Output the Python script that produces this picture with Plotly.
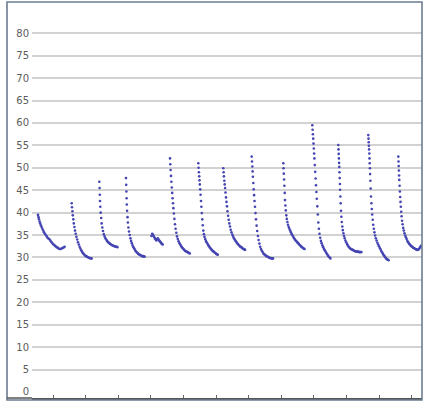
import plotly.graph_objects as go

# ---- data (x in arbitrary time units, y = temperature-like values) ----
t01 = [38, 38.5, 39, 39.6, 40.2, 40.9, 41.6, 42.4, 43.2, 44, 44.9, 45.8, 46.7, 47.6, 48.6, 49.6, 50.6, 51.6, 52.6, 53.6, 54.6, 55.6, 56.6, 57.6, 58.6, 59.6, 60.6, 61.6, 62.6, 63.6, 64.6]
v01 = [39.5, 39.0, 38.5, 38.0, 37.6, 37.2, 36.8, 36.4, 36.0, 35.6, 35.3, 35.0, 34.7, 34.4, 34.2, 34.0, 33.7, 33.4, 33.1, 32.9, 32.7, 32.5, 32.3, 32.2, 32.0, 31.9, 31.9, 32.0, 32.1, 32.2, 32.4]

t02 = [71.7, 72.0, 72.4, 72.8, 73.3, 73.8, 74.4, 75.0, 75.7, 76.4, 77.2, 78.0, 78.8, 79.6, 80.4, 81.2, 82.0, 82.8, 83.6, 84.4, 85.2, 86.0, 86.8, 87.6, 88.4, 89.2, 90.0, 90.8, 91.6]
v02 = [42.1, 41.2, 40.3, 39.4, 38.5, 37.6, 36.8, 36.0, 35.3, 34.6, 34.0, 33.4, 32.9, 32.4, 32.0, 31.6, 31.3, 31.0, 30.8, 30.6, 30.4, 30.3, 30.2, 30.1, 30.0, 29.9, 29.9, 29.8, 29.8]

t03 = [99.3, 99.6, 99.8, 100.0, 100.3, 100.7, 101.2, 101.7, 102.3, 103.0, 103.8, 104.6, 105.4, 106.2, 107.0, 107.8, 108.6, 109.4, 110.2, 111.0, 111.8, 112.6, 113.4, 114.2, 115.0, 115.8, 116.6, 117.4]
v03 = [46.9, 45.5, 44.0, 42.6, 41.3, 40.0, 38.8, 37.6, 36.7, 35.9, 35.2, 34.7, 34.3, 34.0, 33.7, 33.5, 33.3, 33.2, 33.0, 32.9, 32.8, 32.7, 32.6, 32.5, 32.5, 32.4, 32.4, 32.3]

t04 = [126, 126.2, 126.4, 126.6, 126.8, 127.1, 127.5, 127.9, 128.4, 129.0, 129.7, 130.4, 131.1, 131.8, 132.6, 133.4, 134.2, 135.0, 135.8, 136.6, 137.4, 138.2, 139.0, 139.8, 140.6, 141.4, 142.2, 143.0, 143.8, 144.6]
v04 = [47.7, 46.2, 44.7, 43.2, 41.8, 40.4, 39.0, 37.8, 36.7, 35.8, 35.0, 34.3, 33.7, 33.2, 32.7, 32.3, 32.0, 31.7, 31.4, 31.2, 31.0, 30.8, 30.7, 30.6, 30.5, 30.4, 30.3, 30.3, 30.2, 30.2]

t05 = [151.5, 152.2, 152.9, 153.6, 154.3, 155.0, 155.7, 156.4, 157.1, 157.8, 158.5, 159.2, 159.9, 160.6, 161.3, 162.0, 162.7]
v05 = [34.8, 35.3, 35.1, 34.8, 34.5, 34.2, 34.0, 33.8, 34.1, 34.3, 34.0, 33.8, 33.6, 33.4, 33.2, 33.0, 32.9]

t06 = [170.0, 170.3, 170.6, 171.0, 171.4, 171.8, 172.2, 172.6, 173.0, 173.4, 173.9, 174.4, 175.0, 175.6, 176.3, 177.0, 177.8, 178.6, 179.4, 180.2, 181.0, 181.8, 182.6, 183.4, 184.2, 185.0, 185.8, 186.6, 187.4, 188.2, 189.0, 189.8]
v06 = [52.1, 50.8, 49.5, 48.2, 46.9, 45.6, 44.4, 43.2, 42.1, 41.0, 39.8, 38.6, 37.4, 36.4, 35.5, 34.7, 34.1, 33.6, 33.2, 32.9, 32.6, 32.3, 32.1, 31.9, 31.7, 31.5, 31.4, 31.3, 31.2, 31.1, 31.0, 30.9]

t07 = [198.3, 198.6, 198.9, 199.2, 199.5, 199.8, 200.2, 200.6, 201.0, 201.4, 201.8, 202.3, 202.8, 203.3, 203.9, 204.5, 205.2, 205.9, 206.6, 207.4, 208.2, 209.0, 209.8, 210.6, 211.4, 212.2, 213.0, 213.8, 214.6, 215.4, 216.2, 217.0, 217.8]
v07 = [51.0, 50.0, 49.0, 48.1, 47.2, 46.3, 45.2, 44.0, 42.6, 41.3, 39.9, 38.5, 37.2, 36.0, 35.2, 34.6, 34.1, 33.7, 33.4, 33.1, 32.8, 32.5, 32.2, 32.0, 31.8, 31.6, 31.4, 31.3, 31.1, 31.0, 30.8, 30.7, 30.6]

t08 = [223.3, 223.6, 223.9, 224.3, 224.7, 225.1, 225.5, 226.0, 226.5, 227.0, 227.5, 228.1, 228.7, 229.3, 230.0, 230.7, 231.5, 232.3, 233.1, 233.9, 234.7, 235.5, 236.3, 237.1, 237.9, 238.7, 239.5, 240.3, 241.1, 241.9, 242.7, 243.5, 244.3, 245.1]
v08 = [49.9, 49.0, 48.1, 47.1, 46.3, 45.5, 44.5, 43.4, 42.4, 41.4, 40.3, 39.3, 38.4, 37.6, 36.9, 36.2, 35.6, 35.1, 34.7, 34.3, 34.0, 33.7, 33.5, 33.2, 33.0, 32.8, 32.6, 32.4, 32.3, 32.2, 32.0, 31.9, 31.8, 31.7]

t09 = [251.7, 252.0, 252.3, 252.6, 252.9, 253.3, 253.7, 254.1, 254.5, 255.0, 255.5, 256.0, 256.6, 257.2, 257.9, 258.6, 259.4, 260.2, 261.0, 261.8, 262.6, 263.4, 264.2, 265.0, 265.8, 266.6, 267.4, 268.2, 269.0, 269.8, 270.6, 271.4, 272.2, 273.0]
v09 = [52.5, 51.4, 50.3, 49.2, 48.0, 46.6, 45.2, 43.9, 42.6, 41.3, 39.9, 38.5, 37.1, 35.9, 34.8, 33.9, 33.1, 32.4, 31.9, 31.5, 31.2, 30.9, 30.7, 30.6, 30.4, 30.3, 30.2, 30.1, 30.0, 29.9, 29.9, 29.8, 29.8, 29.8]

t10 = [283.3, 283.5, 283.8, 284.1, 284.4, 284.7, 285.0, 285.4, 285.8, 286.3, 286.8, 287.4, 288.0, 288.7, 289.4, 290.1, 290.9, 291.7, 292.5, 293.3, 294.1, 294.9, 295.7, 296.5, 297.3, 298.1, 298.9, 299.7, 300.5, 301.3, 302.1, 302.9, 303.7, 304.5]
v10 = [51.0, 49.9, 48.7, 47.4, 46.0, 44.4, 42.8, 41.6, 40.5, 39.4, 38.6, 37.9, 37.3, 36.8, 36.4, 36.0, 35.6, 35.2, 34.9, 34.6, 34.3, 34.0, 33.8, 33.6, 33.4, 33.2, 33.0, 32.8, 32.6, 32.4, 32.3, 32.1, 32.0, 31.9]

t11 = [312.3, 312.6, 312.9, 313.2, 313.5, 313.8, 314.1, 314.4, 314.8, 315.2, 315.6, 316.0, 316.4, 316.8, 317.3, 317.8, 318.3, 318.9, 319.5, 320.2, 320.9, 321.6, 322.4, 323.2, 324.0, 324.8, 325.6, 326.4, 327.2, 328.0, 328.8, 329.6, 330.4]
v11 = [59.5, 58.5, 57.5, 56.5, 55.4, 54.3, 53.2, 52.1, 50.6, 49.1, 47.6, 46.1, 44.6, 43.1, 41.4, 39.6, 37.8, 36.4, 35.3, 34.4, 33.7, 33.2, 32.7, 32.3, 31.9, 31.6, 31.3, 31.0, 30.7, 30.4, 30.2, 30.0, 29.8]

t12 = [338.3, 338.5, 338.7, 338.9, 339.1, 339.3, 339.5, 339.7, 339.9, 340.1, 340.4, 340.7, 341.0, 341.4, 341.8, 342.3, 342.8, 343.4, 344.0, 344.7, 345.4, 346.2, 347.0, 347.8, 348.6, 349.4, 350.2, 351.0, 351.8, 352.6, 353.4, 354.2, 355.0, 355.8, 356.6, 357.4, 358.2, 359.0, 359.8, 360.6, 361.4]
v12 = [55.1, 54.1, 53.1, 52.1, 51.1, 50.2, 49.0, 47.7, 46.4, 45.1, 43.6, 42.1, 40.4, 39.1, 37.9, 36.9, 36.1, 35.4, 34.8, 34.3, 33.8, 33.4, 33.0, 32.7, 32.4, 32.2, 32.0, 31.9, 31.8, 31.7, 31.6, 31.5, 31.4, 31.4, 31.3, 31.3, 31.3, 31.2, 31.2, 31.2, 31.2]

t13 = [368.3, 368.5, 368.7, 368.9, 369.1, 369.3, 369.5, 369.7, 369.9, 370.1, 370.4, 370.7, 371.0, 371.4, 371.8, 372.2, 372.7, 373.2, 373.8, 374.4, 375.1, 375.8, 376.6, 377.4, 378.2, 379.0, 379.8, 380.6, 381.4, 382.2, 383.0, 383.8, 384.6, 385.4, 386.2, 387.0, 387.8, 388.6]
v13 = [57.3, 56.5, 55.7, 54.9, 54.1, 53.2, 52.1, 51.0, 49.9, 48.6, 47.1, 45.4, 43.6, 42.1, 40.8, 39.6, 38.4, 37.3, 36.4, 35.6, 34.9, 34.3, 33.8, 33.3, 32.9, 32.5, 32.1, 31.8, 31.4, 31.1, 30.8, 30.5, 30.3, 30.0, 29.8, 29.6, 29.5, 29.4]

t14 = [398.3, 398.5, 398.7, 398.9, 399.1, 399.3, 399.6, 399.9, 400.2, 400.5, 400.8, 401.2, 401.6, 402.1, 402.6, 403.2, 403.8, 404.5, 405.2, 405.9, 406.6, 407.4, 408.2, 409.0, 409.8, 410.6, 411.4, 412.2, 413.0, 413.8, 414.6, 415.4, 416.2, 417.0, 417.8, 418.6, 419.4, 420.2, 421.0]
v14 = [52.5, 51.4, 50.4, 49.4, 48.3, 47.3, 46.0, 44.7, 43.5, 42.4, 41.3, 40.2, 39.2, 38.2, 37.4, 36.6, 36.0, 35.4, 34.9, 34.5, 34.1, 33.7, 33.4, 33.1, 32.9, 32.7, 32.5, 32.4, 32.2, 32.1, 32.0, 31.9, 31.8, 31.7, 31.7, 31.8, 32.0, 32.3, 32.6]

y_ticks = list(range(0, 85, 5))
y_grid = list(range(5, 85, 5))

cycles_t = [t01, t02, t03, t04, t05, t06, t07, t08, t09, t10, t11, t12, t13, t14]
cycles_v = [v01, v02, v03, v04, v05, v06, v07, v08, v09, v10, v11, v12, v13, v14]

xs, ys = [], []
for t, v in zip(cycles_t, cycles_v):
    xs += t
    ys += v

fig = go.Figure()
fig.add_trace(go.Scatter(
    x=xs, y=ys, mode="markers",
    marker=dict(size=2.6, color="#4444b2", line=dict(width=0)),
    showlegend=False, hoverinfo="skip",
))

fig.update_layout(
    width=424, height=405,
    margin=dict(l=32, r=2, t=12, b=7),
    paper_bgcolor="white", plot_bgcolor="white",
    showlegend=False,
    xaxis=dict(
        range=[32, 422], showgrid=False, zeroline=False,
        showline=True, linecolor="#555555", linewidth=1.5,
        ticks="inside", ticklen=3, tickcolor="#666666",
        tick0=20.4, dtick=32.6, showticklabels=False,
    ),
    yaxis=dict(
        range=[-1.34, 84.75], tickvals=y_ticks,
        showgrid=False,
        minor=dict(tickvals=y_grid, showgrid=True, gridcolor="#d2d2d2",
                   gridwidth=1.5, ticks=""),
        zeroline=False, showline=False, ticks="",
        ticklabelstandoff=2,
        tickfont=dict(family="DejaVu Sans", size=10, color="#5c5c5c"),
    ),
    shapes=[
        dict(type="rect", xref="paper", yref="paper",
             x0=-0.0641, x1=1.0, y0=-0.005, y1=1.026,
             line=dict(color="#6b7c90", width=1.6), fillcolor="rgba(0,0,0,0)",
             layer="above"),
        dict(type="line", xref="paper", yref="paper",
             x0=-0.0641, x1=0, y0=0, y1=0,
             line=dict(color="#555555", width=1.5)),
    ],
)

fig.write_html(
    "out.html",
    config={"displayModeBar": False},
    post_script="document.body.style.margin='0';document.body.style.overflow='hidden';",
)
